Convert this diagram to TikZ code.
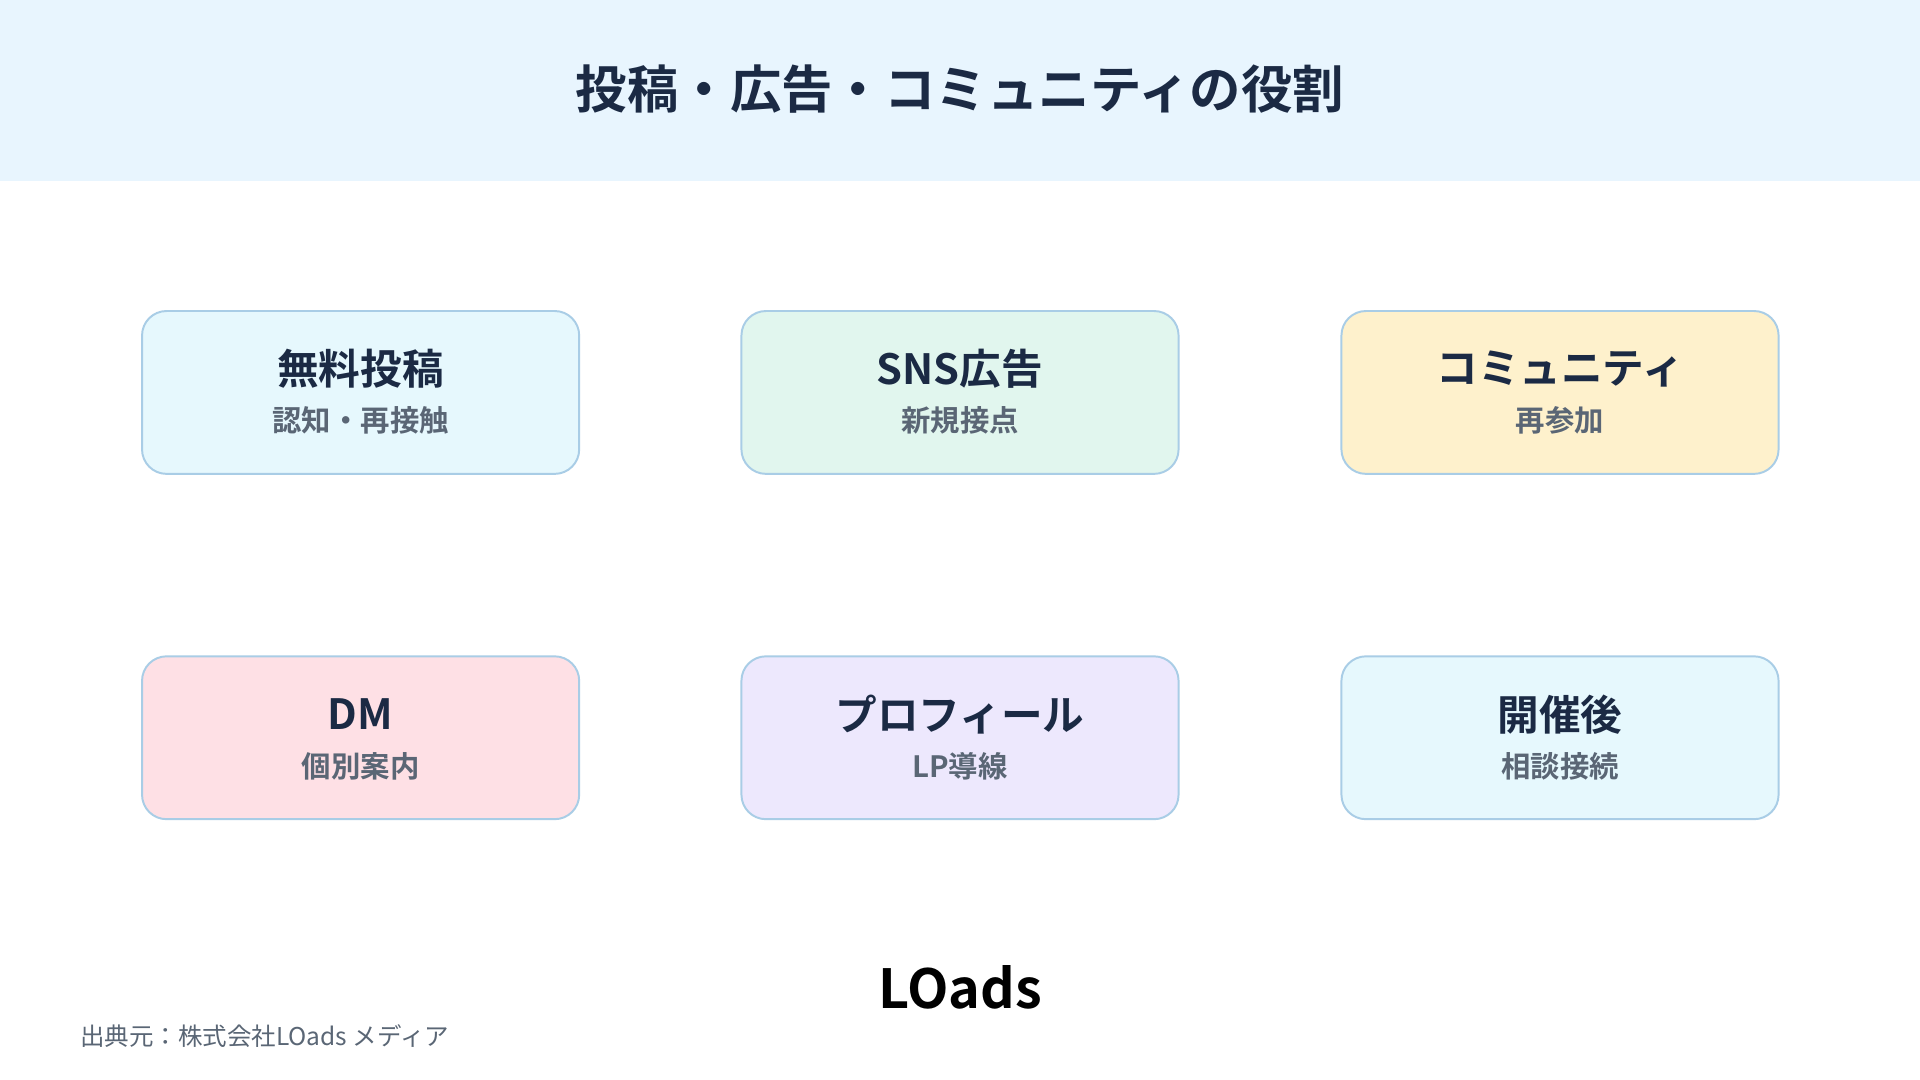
\documentclass[tikz,border=0pt]{standalone}
\usepackage{fontspec}
\setmainfont{Noto Sans CJK JP}[BoldFont={* Bold}]
\newfontfamily\jpb{Noto Sans CJK JP Bold}
\definecolor{hdr}{HTML}{E8F5FE}
\definecolor{navy}{HTML}{1B2A44}
\definecolor{sub}{HTML}{5A6675}
\definecolor{bord}{HTML}{A9CDE6}
\definecolor{fa}{HTML}{E6F8FD}
\definecolor{fb}{HTML}{E1F6EE}
\definecolor{fc}{HTML}{FEF1CC}
\definecolor{fd}{HTML}{FEE0E5}
\definecolor{fe}{HTML}{EDE8FD}
\begin{document}
\begin{tikzpicture}[x=1pt,y=-1pt,
  card/.style={draw=bord,line width=1.6pt,rounded corners=20pt,minimum width=357pt,minimum height=133pt},
  ttl/.style={font=\jpb\fontsize{34}{38}\selectfont,text=navy},
  stl/.style={font=\jpb\fontsize{24}{28}\selectfont,text=sub}]
\useasboundingbox (0,0) rectangle (1568,882);
\fill[white] (0,0) rectangle (1568,882);
\fill[hdr] (0,0) rectangle (1568,148);
\node[font=\jpb\fontsize{42}{48}\selectfont,text=navy] (title) at (784,73) {投稿・広告・コミュニティの役割};
\foreach \n/\x/\y/\f/\t/\s in {a/294.5/320.5/fa/無料投稿/認知・再接触, b/784/320.5/fb/SNS広告/新規接点, c/1274/320.5/fc/コミュニティ/再参加, d/294.5/602.5/fd/DM/個別案内, e/784/602.5/fe/プロフィール/LP導線, f/1274/602.5/fa/開催後/相談接続}{
  \node[card,fill=\f] (\n) at (\x,\y) {};
  \node[ttl] (\n t) at (\x,\y-19) {\t};
  \node[stl] (\n s) at (\x,\y+23) {\s};
}
\node[font=\jpb\fontsize{44}{48}\selectfont,text=black] (logo) at (784,806) {LOads};
\node[anchor=west,font=\fontsize{20}{24}\selectfont,text=sub] (foot) at (62,846) {出典元：株式会社LOads メディア};
\end{tikzpicture}
\end{document}
